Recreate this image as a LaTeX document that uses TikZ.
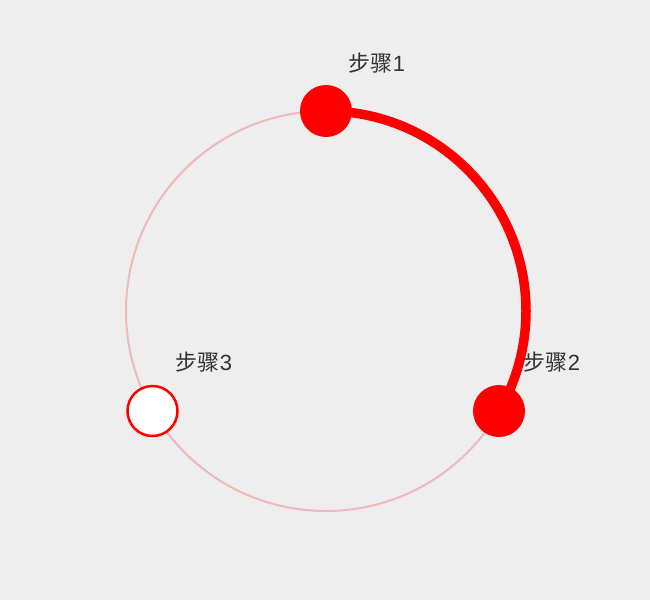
\documentclass[tikz,border=0pt]{standalone}
\usepackage{fontspec}
\setmainfont{Liberation Sans}
\newfontfamily\cjk{Noto Sans CJK SC}
\definecolor{bg}{HTML}{EEEEEE}
\definecolor{ringc}{RGB}{240,185,185}
\definecolor{txt}{HTML}{333333}
\begin{document}
\begin{tikzpicture}[x=1pt,y=-1pt,
  donedot/.style={circle,fill=red,minimum size=52pt,inner sep=0pt},
  tododot/.style={circle,fill=white,draw=red,line width=2.5pt,minimum size=50pt,inner sep=0pt},
  steplabel/.style={text=txt,font=\fontsize{22}{26}\selectfont,inner sep=0pt},
  ringline/.style={ringc,line width=2pt},
  doneline/.style={red,line width=9.5pt}]
\fill[bg] (0,0) rectangle (650,600);
\useasboundingbox (0,0) rectangle (650,600);
\coordinate (c) at (326,311);
\coordinate (p1) at (326,111);
\coordinate (p2) at (499,411);
\coordinate (p3) at (152.5,411);
\draw[ringline] (c) circle[radius=200];
\draw[doneline] (p1) arc[start angle=-90,end angle=30,radius=200];
\node[donedot] (s1) at (p1) {};
\node[donedot] (s2) at (p2) {};
\node[tododot] (s3) at (p3) {};
\node[steplabel] (l1) at (377,63) {{\cjk 步骤}1};
\node[steplabel] (l2) at (552,362) {{\cjk 步骤}2};
\node[steplabel] (l3) at (204,362) {{\cjk 步骤}3};
\end{tikzpicture}
\end{document}
